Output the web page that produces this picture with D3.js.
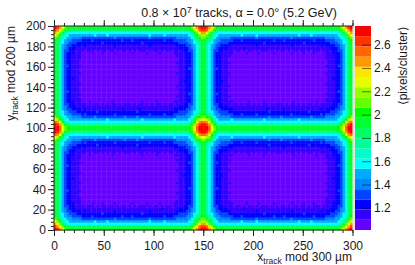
<!DOCTYPE html>
<html lang="en">
  <head>
    <meta charset="utf-8" />
    <title>Pixels per cluster</title>
    <script src="https://d3js.org/d3.v7.min.js"></script>
    <style>
      body { margin: 0; background: #fff; }
      text { font-family: "Liberation Sans", sans-serif; fill: #1a1a1a; }
      .axis path { display: none; }
      .axis line { stroke: #222; stroke-width: 1; }
      .axis text { font-size: 12px; }
    </style>
  </head>
  <body>
    <script>
      // levels of one repeating quadrant (y = 0 row first)
      // every char is a colour band: 0-9 then a-j
      var quadrantRows = [
        "jigecbaaaa" + "aaaaaaaaaa" + "aaaaaaaaaa" + "aaaaaaaaaa" + "aaaaaaaaaa" + "aaaabcegij",
        "igeca99999" + "9999999999" + "9999999999" + "9999999999" + "9999999999" + "99999bdfhi",
        "geca876666" + "6666766666" + "6666666666" + "6667666666" + "6666666766" + "666678aceg",
        "eca8765555" + "5555556555" + "5655555555" + "5555555565" + "5555655555" + "5555679acd",
        "ca87655444" + "4333333333" + "3333433333" + "3333333343" + "3333333334" + "44445689ac",
        "b976544333" + "3222232222" + "2222222322" + "2322222222" + "2222322233" + "333445789b",
        "a976543332" + "2222222223" + "2222222222" + "2222232222" + "2222222222" + "333345678a",
        "a975433222" + "2121111111" + "1111211111" + "1111111121" + "1111111112" + "222334568a",
        "a975432221" + "1111111111" + "1111111111" + "1111111111" + "1112111111" + "222234568a",
        "a975332211" + "1101110101" + "1011010110" + "1010111010" + "1101011011" + "112233568a",
        "a975322211" + "1000010001" + "0000100000" + "0100000100" + "0010000011" + "111223568a",
        "a975322111" + "1000000000" + "0000000000" + "0000000000" + "0000000001" + "111223568a",
        "a975322111" + "1000000000" + "0000000000" + "0000000000" + "0000000000" + "111223568a",
        "a975322111" + "0000000000" + "0000000000" + "0000000000" + "0000000000" + "111223568a",
        "a975322111" + "0000000000" + "0000000000" + "0000000000" + "0000000001" + "111223568a",
        "a975332111" + "1000000000" + "0000000000" + "0000000000" + "0000000000" + "111223568a",
        "a975322111" + "0000000000" + "0000000000" + "0000000000" + "0000000000" + "111233568a",
        "a975322111" + "0000000000" + "0000000000" + "0000000000" + "0000000000" + "111223568a",
        "a975322111" + "1000000000" + "0000000000" + "0000000000" + "0000000001" + "111223568a",
        "a975322111" + "0000000000" + "0000000000" + "0000000000" + "0000000000" + "111223568a",
        "a975322211" + "0000000000" + "0000000000" + "0000000000" + "0000000000" + "111223568a",
        "a975322111" + "0000000000" + "0000000000" + "0000000000" + "0000000000" + "112223568a",
        "a975322111" + "1000000000" + "0000000000" + "0000000000" + "0000000000" + "111223568a",
        "a975322111" + "0000000000" + "0000000000" + "0000000000" + "0000000001" + "111223568a",
        "a975322111" + "0000000000" + "0000000000" + "0000000000" + "0000000000" + "111223568a",
        "a975332111" + "0000000000" + "0000000000" + "0000000000" + "0000000000" + "111223568a",
        "a975322111" + "1000000000" + "0000000000" + "0000000000" + "0000000000" + "111233568a",
        "a975322111" + "0000000000" + "0000000000" + "0000000000" + "0000000001" + "111223568a",
        "a975322111" + "1000000000" + "0000000000" + "0000000000" + "0000000000" + "111223568a",
        "a975322211" + "1000100000" + "0001000000" + "0000010000" + "0100000011" + "111223568a",
        "a975332211" + "1110101101" + "0101101011" + "1010110101" + "0110101101" + "112233568a",
        "a975432221" + "1111111111" + "1111111111" + "1111111111" + "1111111111" + "222234568a",
        "a975433222" + "2121111111" + "1111111211" + "1111211111" + "1111111122" + "222334568a",
        "a976543332" + "2222222322" + "2222222222" + "2223222222" + "2222222222" + "333345678a",
        "b976544333" + "3232222222" + "2222322222" + "2222222232" + "2222322233" + "333445789b",
        "ca87655444" + "4333334333" + "3333333343" + "3334333333" + "3333333334" + "4444568abc",
        "edb9765555" + "5555555555" + "5655555555" + "5555565555" + "5555555565" + "555568acde",
        "hgeb876666" + "6666666766" + "6666666666" + "6676666666" + "6666666666" + "666679begh",
        "jigda98888" + "8888888888" + "8888888888" + "8888888888" + "8888888888" + "88889bdgij",
        "jjhecbaaaa" + "aaaaaaaaaa" + "aaaaaaaaaa" + "aaaaaaaaaa" + "aaaaaaaaaa" + "aaaabcehjj",
      ];
      var levelChars = "0123456789abcdefghij";

      var bandColors = [
        "#6600ff", "#3300ff", "#0000ff", "#0044ff", "#0088ff",
        "#00aaff", "#00ffff", "#00ffcc", "#00ff99", "#00ff66",
        "#00ff33", "#00ff00", "#66ff00", "#99ff00", "#e6ff00",
        "#ffe600", "#ff9900", "#ff6600", "#ff3300", "#ff0000",
      ];
      var zMin = 1.01,
        zMax = 2.76,
        binSize = 2.5;
      var xTicks = [0, 50, 100, 150, 200, 250, 300];
      var yTicks = [0, 20, 40, 60, 80, 100, 120, 140, 160, 180, 200];
      var zTicks = [1.2, 1.4, 1.6, 1.8, 2, 2.2, 2.4, 2.6];

      var width = 415,
        height = 265;
      var margin = { top: 26, right: 62.5, bottom: 35, left: 54 };

      var svg = d3
        .select("body")
        .append("svg")
        .attr("width", width)
        .attr("height", height)
        .style("display", "block");

      var x = d3.scaleLinear().domain([0, 300]).range([margin.left, width - margin.right]);
      var y = d3.scaleLinear().domain([0, 200]).range([height - margin.bottom, margin.top]);
      var z = d3.scaleLinear().domain([zMin, zMax]).range([height - margin.bottom, margin.top]);
      var bandWidth = (zMax - zMin) / bandColors.length;
      var color = d3.scaleQuantize().domain([zMin, zMax]).range(bandColors);

      // mirror the quadrant into the whole 120 x 80 map
      var cells = [];
      for (let r = 0; r < 80; r++) {
        let qr = r < 40 ? r : 79 - r;
        for (let c = 0; c < 120; c++) {
          let qc = c < 60 ? c : 119 - c;
          let level = levelChars.indexOf(quadrantRows[qr][qc]);
          cells.push({
            x: c * binSize,
            y: r * binSize,
            value: zMin + (level + 0.5) * bandWidth,
          });
        }
      }

      var defs = svg.append("defs");
      defs
        .append("filter")
        .attr("id", "soft")
        .attr("x", 0)
        .attr("y", 0)
        .attr("width", 1)
        .attr("height", 1)
        .append("feGaussianBlur")
        .attr("stdDeviation", 0.6);

      svg
        .append("g")
        .attr("filter", "url(#soft)")
        .selectAll("rect")
        .data(cells)
        .enter()
        .append("rect")
        .attr("x", (d) => x(d.x))
        .attr("y", (d) => y(d.y + binSize))
        .attr("width", x(binSize) - x(0) + 0.4)
        .attr("height", y(0) - y(binSize) + 0.4)
        .attr("fill", (d) => color(d.value));

      // colour bar
      var barX = 355,
        barW = 16;
      svg
        .append("rect")
        .attr("x", width - margin.right)
        .attr("y", margin.top)
        .attr("width", barX - (width - margin.right))
        .attr("height", y(0) - y(200))
        .attr("fill", "#e4e4e4");
      svg
        .append("g")
        .selectAll("rect")
        .data(bandColors)
        .enter()
        .append("rect")
        .attr("x", barX)
        .attr("width", barW)
        .attr("y", (d, i) => z(zMin + (i + 1) * bandWidth))
        .attr("height", (d, i) => z(zMin + i * bandWidth) - z(zMin + (i + 1) * bandWidth))
        .attr("fill", (d) => d);
      svg
        .append("g")
        .attr("class", "axis")
        .attr("transform", "translate(" + (barX + barW) + ",0)")
        .call(
          d3
            .axisRight(z)
            .tickValues(zTicks)
            .tickSize(0)
            .tickPadding(3)
            .tickFormat((d) => d)
        )
        .call((g) =>
          g
            .selectAll(".tick line")
            .attr("x1", -9)
            .attr("x2", 0)
            .style("stroke", "#000")
            .style("stroke-opacity", 0.55)
        );

      // axes, minor ticks first
      function minor(axis, step, max, size, pos) {
        svg
          .append("g")
          .attr("class", "axis")
          .attr("transform", pos)
          .call(axis.tickValues(d3.range(0, max + 0.1, step)).tickSize(size).tickFormat(""));
      }
      var bottomPos = "translate(0," + y(0) + ")",
        topPos = "translate(0," + y(200) + ")",
        leftPos = "translate(" + x(0) + ",0)";

      minor(d3.axisBottom(x), 10, 300, 3, bottomPos);
      minor(d3.axisTop(x), 10, 300, 3, topPos);
      minor(d3.axisLeft(y), 4, 200, 3, leftPos);

      svg
        .append("g")
        .attr("class", "axis")
        .attr("transform", bottomPos)
        .call(d3.axisBottom(x).tickValues(xTicks).tickSize(6).tickPadding(5));
      svg
        .append("g")
        .attr("class", "axis")
        .attr("transform", topPos)
        .call(d3.axisTop(x).tickValues(xTicks).tickSize(6).tickFormat(""));
      svg
        .append("g")
        .attr("class", "axis")
        .attr("transform", leftPos)
        .call(d3.axisLeft(y).tickValues(yTicks).tickSize(6).tickPadding(2));

      // frame lines
      svg
        .append("line")
        .attr("x1", x(0))
        .attr("x2", x(300))
        .attr("y1", y(0))
        .attr("y2", y(0))
        .attr("stroke", "#222");
      svg
        .append("line")
        .attr("x1", x(0))
        .attr("x2", x(300))
        .attr("y1", y(200))
        .attr("y2", y(200))
        .attr("stroke", "#222");
      svg
        .append("line")
        .attr("x1", x(0))
        .attr("x2", x(0))
        .attr("y1", y(0))
        .attr("y2", y(200))
        .attr("stroke", "#222");

      // title
      var title = svg
        .append("text")
        .attr("x", 337)
        .attr("y", 16.5)
        .attr("text-anchor", "end")
        .style("font-size", "12.5px");
      title.append("tspan").text("0.8 × 10");
      title.append("tspan").attr("dy", -4).style("font-size", "9px").text("7");
      title.append("tspan").attr("dy", 4).text(" tracks, α = 0.0° (5.2 GeV)");

      function axisLabel(name, rest, transform) {
        var t = svg
          .append("text")
          .attr("text-anchor", "end")
          .attr("transform", transform)
          .style("font-size", "12px");
        t.append("tspan").text(name);
        t.append("tspan").attr("dy", 3).style("font-size", "8.5px").text("track");
        t.append("tspan").attr("dy", -3).text(rest);
      }
      axisLabel("x", " mod 300 µm", "translate(352,261)");
      axisLabel("y", " mod 200 µm", "translate(15,26) rotate(-90)");

      svg
        .append("text")
        .attr("text-anchor", "end")
        .attr("transform", "translate(407,26) rotate(-90)")
        .style("font-size", "12px")
        .text("⟨pixels/cluster⟩");
    </script>
  </body>
</html>
